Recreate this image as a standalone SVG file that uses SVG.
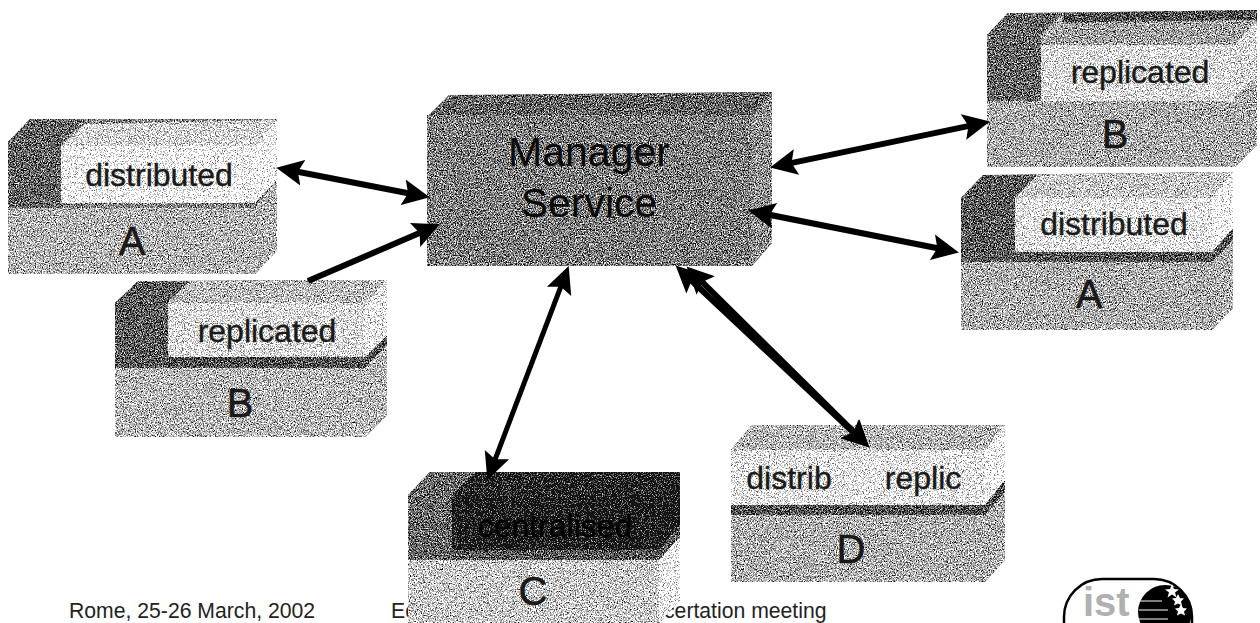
<svg xmlns="http://www.w3.org/2000/svg" width="1260" height="623" viewBox="0 0 1260 623">
<style>
text{font-family:"Liberation Sans",Arial,sans-serif;fill:#1a1a1a}
.l{font-size:32px;text-anchor:middle;stroke:#1a1a1a;stroke-width:.4}
.c{font-size:40px;text-anchor:middle;stroke:#111;stroke-width:.5}
.m{font-size:41px;text-anchor:middle;fill:#0c0c0c}
.f{font-size:21.2px;fill:#222}
.a{fill:none;stroke:#000;stroke-width:6;marker-start:url(#h);marker-end:url(#h)}
.n{filter:url(#dither)}
</style>
<defs>
<filter id="dither" x="0" y="0" width="1" height="1" color-interpolation-filters="sRGB">
<feTurbulence type="fractalNoise" baseFrequency="0.85" numOctaves="2" seed="4" result="t"/>
<feColorMatrix in="t" type="matrix" values="1.3 1.3 0 0 -0.8 1.3 1.3 0 0 -0.8 1.3 1.3 0 0 -0.8 0 0 0 0 1" result="n"/>
<feComposite in="SourceGraphic" in2="n" operator="arithmetic" k1="0" k2="1" k3="1" k4="-0.5" result="s"/>
<feComponentTransfer in="s" result="d">
<feFuncR type="discrete" tableValues="0.08 0.4 0.72 1"/>
<feFuncG type="discrete" tableValues="0.08 0.4 0.72 1"/>
<feFuncB type="discrete" tableValues="0.08 0.4 0.72 1"/>
</feComponentTransfer>
<feComposite in="d" in2="SourceAlpha" operator="in"/>
</filter>
<marker id="h" markerUnits="userSpaceOnUse" markerWidth="30" markerHeight="28" viewBox="0 0 30 28" refX="13" refY="14" orient="auto-start-reverse">
<path d="M0 1 L27 14 L0 27 L5 14Z" fill="#000"/>
</marker>
</defs>
<g id="footer">
<text class="f" x="69" y="618">Rome, 25-26 March, 2002</text>
<text class="f" x="391" y="618">Ec</text>
<text class="f" x="664" y="618">certation meeting</text>
</g>
<g id="manager">
<g class="n">
<polygon points="427,117 449,95 772,92 752,117" fill="#5c5c5c"/>
<polygon points="752,117 772,92 772,243 752,266" fill="#808080"/>
<rect x="427" y="115" width="325" height="151" fill="#727272"/>
</g>
<text class="m" x="589" y="166">Manager</text>
<text class="m" x="589" y="217">Service</text>
</g>
<g id="left-a">
<g class="n">
<polygon points="8,142 30,119 277,119 277,251 255,274 8,274" fill="#a0a0a0"/>
<polygon points="8,142 30,119 84,119 61,146 61,208 8,208" fill="#5c5c5c"/>
<polygon points="84,119 277,119 277,180 255,208 61,208 61,146" fill="#777"/>
<polygon points="61,146 84,124 277,120 255,146" fill="#c0c0c0"/>
<polygon points="255,146 277,120 277,180 255,203" fill="#e8e8e8"/>
<rect x="61" y="146" width="194" height="57" fill="#e2e2e2"/>
</g>
<text class="l" x="159" y="186">distributed</text>
<text class="c" x="132" y="255">A</text>
</g>
<g id="left-b">
<g class="n">
<polygon points="115,303 138,281 387,280 387,415 365,437 115,437" fill="#a4a4a4"/>
<polygon points="115,303 138,281 190,281 168,303 168,368 115,368" fill="#555"/>
<polygon points="168,357 365,357 387,335 387,345 365,368 168,368" fill="#4c4c4c"/>
<polygon points="168,303 190,281 387,280 365,303" fill="#a8a8a8"/>
<polygon points="365,303 387,280 387,335 365,357" fill="#d8d8d8"/>
<rect x="168" y="303" width="197" height="54" fill="#c8c8c8"/>
</g>
<text class="l" x="267" y="342">replicated</text>
<text class="c" x="240" y="417">B</text>
</g>
<g id="right-b">
<g class="n">
<polygon points="987,35 1008,13 1257,10 1257,145 1235,167 987,167" fill="#989898"/>
<polygon points="987,35 1008,13 1063,13 1041,35 1041,101 987,101" fill="#5e5e5e"/>
<polygon points="1063,13 1257,10 1257,20 1063,23" fill="#4a4a4a"/>
<polygon points="1041,45 1063,23 1257,20 1235,45" fill="#909090"/>
<polygon points="1235,45 1257,20 1257,78 1235,95" fill="#c4c4c4"/>
<rect x="1041" y="45" width="194" height="56" fill="#c8c8c8"/>
</g>
<text class="l" x="1140" y="83">replicated</text>
<text class="c" x="1115" y="148">B</text>
</g>
<g id="right-a">
<g class="n">
<polygon points="961,198 983,175 1233,172 1233,308 1212,330 961,330" fill="#9a9a9a"/>
<polygon points="961,198 983,175 1037,175 1015,198 1015,262 961,262" fill="#545454"/>
<polygon points="1015,252 1212,252 1233,228 1233,240 1212,262 1015,262" fill="#4e4e4e"/>
<polygon points="1015,198 1037,175 1233,172 1212,198" fill="#b4b4b4"/>
<polygon points="1212,198 1233,172 1233,228 1212,252" fill="#e8e8e8"/>
<rect x="1015" y="198" width="197" height="54" fill="#d2d2d2"/>
</g>
<text class="l" x="1114" y="235">distributed</text>
<text class="c" x="1089" y="308">A</text>
</g>
<g id="c">
<g class="n">
<polygon points="408,495 430,472 680,472 680,600 659,623 408,623" fill="#b4b4b4"/>
<polygon points="659,560 680,537 680,600 659,623" fill="#dedede"/>
<polygon points="408,495 430,472 475,472 452,495 452,560 408,560" fill="#606060"/>
<polygon points="452,550 659,550 680,525 680,537 659,560 452,560" fill="#505050"/>
<polygon points="452,495 475,472 680,472 659,495" fill="#222"/>
<polygon points="659,495 680,472 680,525 659,550" fill="#141414"/>
<rect x="452" y="495" width="207" height="55" fill="#1a1a1a"/>
</g>
<text class="l" x="555" y="537" style="fill:#000;stroke:#000">centralised</text>
<text class="c" x="533" y="605">C</text>
</g>
<g id="d">
<g class="n">
<polygon points="731,450 752,425 1005,425 1005,560 985,582 731,582" fill="#9c9c9c"/>
<polygon points="752,425 1005,425 985,450 731,450" fill="#a2a2a2"/>
<polygon points="985,450 1005,425 1005,480 985,505" fill="#e2e2e2"/>
<polygon points="731,505 985,505 1005,480 1005,492 985,515 731,515" fill="#4c4c4c"/>
<rect x="731" y="450" width="254" height="55" fill="#d2d2d2"/>
</g>
<text class="l" x="789" y="489">distrib</text>
<text class="l" x="923" y="489">replic</text>
<text class="c" x="851" y="563">D</text>
</g>
<g id="logo">
<rect x="1064" y="579" width="128" height="90" rx="38" fill="#fff" stroke="#000" stroke-width="2.500"/>
<text x="1083" y="616" style="font-size:40px;font-weight:bold;fill:#b0b0b0">ist</text>
<circle cx="1165" cy="612" r="27" fill="#000"/>
<path d="M1140 601H1162M1139 610H1168M1139 619H1168" stroke="#fff" fill="none"/>
<path d="M1172 584l2 5 5 .5-4 3 1.500 5-4.500-3-4.500 3 1.500-5-4-3 5-.5ZM1178 594l2 4 4 .5-3 3 1 4-4-2-4 2 1-4-3-3 4-.5ZM1181 604l2 4 4 .5-3 3 1 4-4-2-4 2 1-4-3-3 4-.5Z" fill="#fff"/>
</g>
<g id="connectors">
<line class="a" x1="290" y1="170.3" x2="416" y2="194.7"/>
<line class="a" x1="308" y1="281" x2="427" y2="229.800" style="marker-start:none"/>
<line class="a" x1="783.700" y1="164.600" x2="976.300" y2="124.400"/>
<line class="a" x1="761.800" y1="213.300" x2="945.200" y2="249.700"/>
<line class="a" x1="563.700" y1="279.200" x2="492.300" y2="466.800" style="stroke-width:5"/>
<line class="a" x1="685.800" y1="275.200" x2="859.200" y2="437.800"/>
<line class="a" x1="696.500" y1="276.400" x2="859.500" y2="437.600"/>
</g>
</svg>
